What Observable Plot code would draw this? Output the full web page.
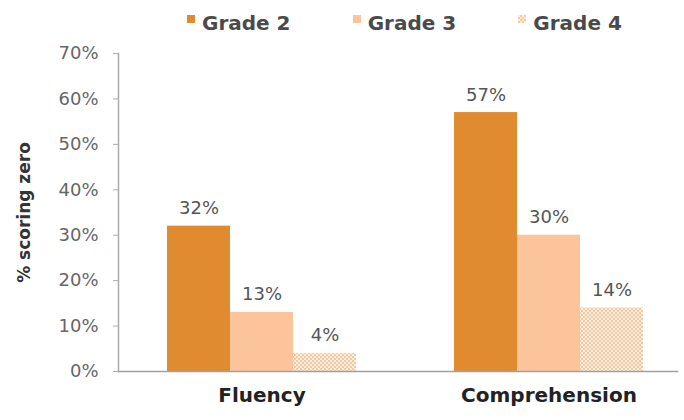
<!DOCTYPE html>
<html><head><meta charset="utf-8">
<script src="https://cdn.jsdelivr.net/npm/d3@7"></script>
<script src="https://cdn.jsdelivr.net/npm/@observablehq/plot@0.6"></script>
<style>
body{margin:0;background:#fff;font-family:"DejaVu Sans",sans-serif;}
#legend{position:relative;height:36px;display:flex;padding-left:187px;box-sizing:border-box;}
.item{width:175px;margin-top:12px;font-size:20px;font-weight:bold;color:#4a4a4a;display:flex;align-items:flex-start;line-height:23px;}
.sw{width:8px;height:8px;margin-top:3px;margin-right:7px;flex:none;}
</style></head><body>
<svg width="0" height="0" style="position:absolute"><defs>
<pattern id="dots" width="4" height="4" patternUnits="userSpaceOnUse">
<rect width="4" height="4" fill="#fdf0e3"/><rect width="2" height="2" fill="#f3c89f"/><rect x="2" y="2" width="2" height="2" fill="#f3c89f"/>
</pattern></defs></svg>
<div id="legend"></div>
<div id="chart"></div>
<script>
const categories = ["Fluency", "Comprehension"];
const grades = ["Grade 2", "Grade 3", "Grade 4"];
const fluency = [32, 13, 4];
const comprehension = [57, 30, 14];
const yTicks = [0, 10, 20, 30, 40, 50, 60, 70];
const colors = ["#e08b30", "#fcc49a", "url(#dots)"];
const yLabel = "% scoring zero";

const series = {Fluency: fluency, Comprehension: comprehension};
const data = [];
categories.forEach(c => grades.forEach((g, j) => data.push({category: c, grade: g, value: series[c][j]})));

const legend = document.getElementById("legend");
grades.forEach((g, i) => {
  const it = document.createElement("div");
  it.className = "item";
  const sw = document.createElement("span");
  sw.className = "sw";
  sw.style.background = i === 2 ? "repeating-conic-gradient(#f3c89f 0 25%, #fdf0e3 0 50%) 0 0/4px 4px" : colors[i];
  it.appendChild(sw);
  const t = document.createElement("span");
  t.textContent = g;
  it.appendChild(t);
  legend.appendChild(it);
});

const plot = Plot.plot({
  width: 684, height: 384,
  marginTop: 17, marginBottom: 49, marginLeft: 118, marginRight: 5,
  style: {fontFamily: "DejaVu Sans, sans-serif", background: "#fff"},
  fx: {domain: categories, paddingInner: 0.052, paddingOuter: 0, align: 0, axis: null, label: null},
  x: {domain: grades, paddingInner: 0, paddingOuter: 0.644, align: 0.585, axis: null},
  y: {domain: [0, 70], axis: null},
  color: {domain: grades, range: colors},
  marks: [
    Plot.barY(data, {fx: "category", x: "grade", y: "value", fill: "grade"}),
    Plot.text(data, {fx: "category", x: "grade", y: "value", text: d => d.value + "%", lineAnchor: "bottom", dy: -12, fontSize: 18, fill: "#555"}),
    Plot.frame({anchor: "left", facet: "super", stroke: "#aaa", strokeWidth: 1.5}),
    Plot.frame({anchor: "bottom", facet: "super", stroke: "#9aa2a8", strokeWidth: 1.5}),
    Plot.axisY({ticks: yTicks, tickFormat: d => d + "%", tickSize: 5, tickPadding: 15, fontSize: 18, fill: "#666", stroke: "#aaa", label: null}),
    Plot.axisY({ticks: [], label: yLabel, labelAnchor: "center", labelArrow: "none", labelOffset: 101, fontSize: 17, fontWeight: "bold", fill: "#333"}),
    Plot.text(categories, {fx: d => d, x: () => grades[1], frameAnchor: "bottom", dy: 30, text: d => d, fontSize: 20, fontWeight: "bold", fill: "#222"})
  ]
});
document.getElementById("chart").appendChild(plot);
</script>
</body></html>
